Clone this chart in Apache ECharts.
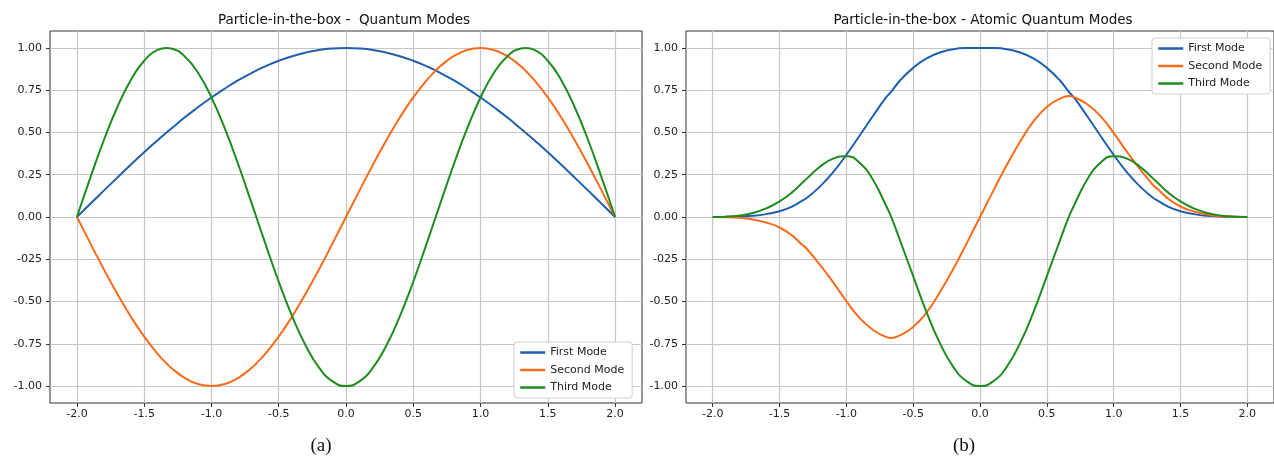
<!DOCTYPE html>
<html>
<head>
<meta charset="utf-8">
<script src="https://cdn.jsdelivr.net/npm/echarts@6/dist/echarts.min.js"></script>
<style>
  html, body { margin: 0; padding: 0; background: #fff; }
  #main { width: 1274px; height: 456px; }
</style>
</head>
<body>
<div id="main"></div>
<script>
// sample positions (same for both panels), extra points at the curve extremes
var xs = [-2.0, -1.9, -1.8, -1.7, -1.6, -1.5, -1.4, -1.3333, -1.3, -1.2, -1.1, -1.0, -0.9, -0.8, -0.7, -0.6667, -0.6, -0.5, -0.4, -0.3, -0.2, -0.1,
          0.0, 0.1, 0.2, 0.3, 0.4, 0.5, 0.6, 0.6667, 0.7, 0.8, 0.9, 1.0, 1.1, 1.2, 1.3, 1.3333, 1.4, 1.5, 1.6, 1.7, 1.8, 1.9, 2.0];

// (a) particle in the box
var boxFirst = [0.000, 0.078, 0.156, 0.233, 0.309, 0.383, 0.454, 0.500, 0.522, 0.588, 0.649, 0.707, 0.760, 0.809, 0.853, 0.866, 0.891, 0.924, 0.951, 0.972, 0.988, 0.997,
                1.000, 0.997, 0.988, 0.972, 0.951, 0.924, 0.891, 0.866, 0.853, 0.809, 0.760, 0.707, 0.649, 0.588, 0.522, 0.500, 0.454, 0.383, 0.309, 0.233, 0.156, 0.078, 0.000];
var boxSecond = [0.000, -0.156, -0.309, -0.454, -0.588, -0.707, -0.809, -0.866, -0.891, -0.951, -0.988, -1.000, -0.988, -0.951, -0.891, -0.866, -0.809, -0.707, -0.588, -0.454, -0.309, -0.156,
                 0.000, 0.156, 0.309, 0.454, 0.588, 0.707, 0.809, 0.866, 0.891, 0.951, 0.988, 1.000, 0.988, 0.951, 0.891, 0.866, 0.809, 0.707, 0.588, 0.454, 0.309, 0.156, 0.000];
var boxThird = [0.000, 0.233, 0.454, 0.649, 0.809, 0.924, 0.988, 1.000, 0.997, 0.951, 0.853, 0.707, 0.522, 0.309, 0.078, 0.000, -0.156, -0.383, -0.588, -0.760, -0.891, -0.972,
                -1.000, -0.972, -0.891, -0.760, -0.588, -0.383, -0.156, 0.000, 0.078, 0.309, 0.522, 0.707, 0.853, 0.951, 0.997, 1.000, 0.988, 0.924, 0.809, 0.649, 0.454, 0.233, 0.000];

// (b) atomic modes
var atomFirst = [0.000, 0.001, 0.003, 0.007, 0.017, 0.034, 0.064, 0.095, 0.111, 0.178, 0.264, 0.368, 0.482, 0.599, 0.710, 0.738, 0.806, 0.882, 0.938, 0.973, 0.992, 0.999,
                 1.000, 0.999, 0.992, 0.973, 0.938, 0.882, 0.806, 0.738, 0.710, 0.599, 0.482, 0.368, 0.264, 0.178, 0.111, 0.095, 0.064, 0.034, 0.017, 0.007, 0.003, 0.001, 0.000];
var atomSecond = [0.000, -0.001, -0.005, -0.015, -0.033, -0.062, -0.113, -0.163, -0.185, -0.280, -0.385, -0.497, -0.598, -0.668, -0.710, -0.715, -0.700, -0.650, -0.565, -0.445, -0.307, -0.156,
                  0.000, 0.156, 0.307, 0.445, 0.565, 0.650, 0.700, 0.715, 0.710, 0.668, 0.598, 0.497, 0.385, 0.280, 0.185, 0.163, 0.113, 0.062, 0.033, 0.015, 0.005, 0.001, 0.000];
var atomThird = [0.000, 0.002, 0.009, 0.024, 0.051, 0.092, 0.150, 0.200, 0.224, 0.296, 0.345, 0.360, 0.320, 0.219, 0.062, 0.005, -0.135, -0.350, -0.563, -0.746, -0.886, -0.971,
                 -1.000, -0.971, -0.886, -0.746, -0.563, -0.350, -0.135, 0.005, 0.062, 0.219, 0.320, 0.360, 0.345, 0.296, 0.224, 0.200, 0.150, 0.092, 0.051, 0.024, 0.009, 0.002, 0.000];

var modeNames = ['First Mode', 'Second Mode', 'Third Mode'];
var modeColors = ['#1f5fad', '#f96b1b', '#1e8c1e'];

var xTicks = [-2.0, -1.5, -1.0, -0.5, 0.0, 0.5, 1.0, 1.5, 2.0];
var xTickLabels = ['-2.0', '-1.5', '-1.0', '-0.5', '0.0', '0.5', '1.0', '1.5', '2.0'];
var yTicks = [-1.0, -0.75, -0.5, -0.25, 0.0, 0.25, 0.5, 0.75, 1.0];
var yTickLabels = ['-1.00', '-0.75', '-0.50', '-025', '0.00', '0.25', '0.50', '0.75', '1.00'];

var titles = ['Particle-in-the-box -  Quantum Modes', 'Particle-in-the-box - Atomic Quantum Modes'];
var captions = ['(a)', '(b)'];

var panels = [[boxFirst, boxSecond, boxThird], [atomFirst, atomSecond, atomThird]];

function pairs(ys) {
    var out = [];
    for (var i = 0; i < xs.length; i++) out.push([xs[i], ys[i]]);
    return out;
}

function pickLabel(ticks, labels) {
    return function (v) {
        for (var i = 0; i < ticks.length; i++) {
            if (Math.abs(ticks[i] - v) < 1e-6) return labels[i];
        }
        return '';
    };
}

var labelFont = { fontFamily: 'DejaVu Sans', fontSize: 11, color: '#222' };

function makeX(idx) {
    return {
        type: 'value', gridIndex: idx, min: -2.2, max: 2.2,
        axisLine: { show: false, onZero: false },
        axisTick: { show: true, length: 4, customValues: xTicks, lineStyle: { color: '#333' } },
        axisLabel: Object.assign({ customValues: xTicks, margin: 6, formatter: pickLabel(xTicks, xTickLabels) }, labelFont),
        splitLine: { show: true, lineStyle: { color: '#c6c6c6', width: 1.2 } }
    };
}
function makeY(idx) {
    return {
        type: 'value', gridIndex: idx, min: -1.1, max: 1.1,
        axisLine: { show: false, onZero: false },
        axisTick: { show: true, length: 4, customValues: yTicks, lineStyle: { color: '#333' } },
        axisLabel: Object.assign({ customValues: yTicks, margin: 8, formatter: pickLabel(yTicks, yTickLabels) }, labelFont),
        splitLine: { show: true, lineStyle: { color: '#c6c6c6', width: 1.2 } }
    };
}

var series = [];
panels.forEach(function (modes, p) {
    modes.forEach(function (ys, k) {
        series.push({
            name: modeNames[k], type: 'line', xAxisIndex: p, yAxisIndex: p,
            data: pairs(ys), smooth: 0.5, symbol: 'none',
            lineStyle: { color: modeColors[k], width: 2 },
            itemStyle: { color: modeColors[k] },
            z: 3 + k
        });
    });
});

var legendBase = {
    orient: 'vertical', data: modeNames,
    itemWidth: 25, itemHeight: 11, itemGap: 6.5,
    padding: [5, 8, 5, 5],
    backgroundColor: '#fff', borderColor: '#d0d0d0', borderWidth: 1, borderRadius: 3,
    itemStyle: { opacity: 0 },
    lineStyle: { width: 2.5 },
    textStyle: { fontFamily: 'DejaVu Sans', fontSize: 11, color: '#222' },
    selectedMode: false
};

var chart = echarts.init(document.getElementById('main'));
chart.setOption({
    animation: false,
    backgroundColor: '#fff',
    grid: [
        { left: 50, top: 31, width: 592, height: 372, show: true, borderColor: '#333', borderWidth: 1 },
        { left: 686, top: 31, width: 591, height: 372, show: true, borderColor: '#333', borderWidth: 1 }
    ],
    xAxis: [makeX(0), makeX(1)],
    yAxis: [makeY(0), makeY(1)],
    legend: [
        Object.assign({ left: 514, top: 342 }, legendBase),
        Object.assign({ left: 1152, top: 38 }, legendBase)
    ],
    graphic: [
        { type: 'text', x: 344, y: 20, style: { text: titles[0], x: 0, y: 0, align: 'center', verticalAlign: 'middle', font: '13.5px "DejaVu Sans"', fill: '#111' } },
        { type: 'text', x: 983, y: 20, style: { text: titles[1], x: 0, y: 0, align: 'center', verticalAlign: 'middle', font: '13.5px "DejaVu Sans"', fill: '#111' } },
        { type: 'text', x: 321, y: 446, style: { text: captions[0], x: 0, y: 0, align: 'center', verticalAlign: 'middle', font: '19px "Liberation Serif"', fill: '#111' } },
        { type: 'text', x: 964, y: 446, style: { text: captions[1], x: 0, y: 0, align: 'center', verticalAlign: 'middle', font: '19px "Liberation Serif"', fill: '#111' } }
    ],
    series: series
});
</script>
</body>
</html>
